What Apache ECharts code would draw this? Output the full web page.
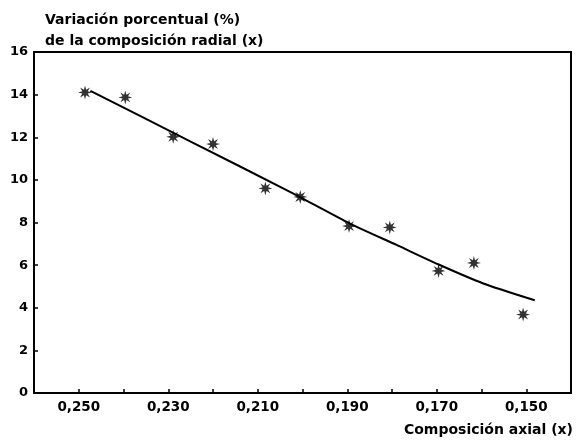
<!DOCTYPE html>
<html>
<head>
<meta charset="utf-8">
<script src="https://cdn.jsdelivr.net/npm/echarts@6/dist/echarts.min.js"></script>
<style>
  html, body { margin: 0; padding: 0; background: #fff; }
  #chart { width: 578px; height: 443px; }
</style>
</head>
<body>
<div id="chart"></div>
<script>
// puntos medidos (asteriscos)
const pointX = [0.2486, 0.2396, 0.2289, 0.2200, 0.2083, 0.2005, 0.1896, 0.1805, 0.1696, 0.1617, 0.1507];
const pointY = [14.10, 13.87, 12.02, 11.68, 9.60, 9.20, 7.83, 7.77, 5.73, 6.10, 3.68];

// curva ajustada
const curveX = [0.2474, 0.2251, 0.2028, 0.1894, 0.1791, 0.1697, 0.1596, 0.1481];
const curveY = [14.18, 11.81, 9.44, 7.95, 6.96, 6.04, 5.14, 4.35];

// etiquetas de los ejes
const xLabelValues = [0.25, 0.23, 0.21, 0.19, 0.17, 0.15];
const yTicks = [0, 2, 4, 6, 8, 10, 12, 14, 16];

const titleText = 'Variación porcentual (%)\nde la composición radial (x)';
const xAxisName = 'Composición axial (x)';

// asterisco de 8 puntas
function asteriskPath() {
    let d = '';
    for (let i = 0; i < 16; i++) {
        let a = i * Math.PI / 8 - Math.PI / 2;
        let r = i % 2 ? 0.42 : 1;
        let x = (50 + 50 * r * Math.cos(a)).toFixed(2);
        let y = (50 + 50 * r * Math.sin(a)).toFixed(2);
        d += (i === 0 ? 'M' : 'L') + x + ' ' + y + ' ';
    }
    return 'path://' + d + 'Z';
}

const font = 'DejaVu Sans';
let chart = echarts.init(document.getElementById('chart'), null, {renderer: 'canvas'});

let option = {
    backgroundColor: '#fff',
    animation: false,
    title: {
        text: titleText,
        left: 40,
        top: 5,
        textStyle: {
            fontFamily: font,
            fontWeight: 'bold',
            fontSize: 14,
            color: '#000',
            lineHeight: 21
        }
    },
    graphic: [{
        type: 'text',
        right: 5,
        top: 423,
        style: {
            text: xAxisName,
            font: 'bold 14px "DejaVu Sans"',
            fill: '#000'
        }
    }],
    grid: {
        left: 34,
        right: 7,
        top: 52,
        bottom: 50,
        show: true,
        borderColor: '#000',
        borderWidth: 2,
        containLabel: false
    },
    xAxis: {
        type: 'value',
        inverse: true,
        min: 0.14,
        max: 0.26,
        interval: 0.01,
        axisLine: {show: true, onZero: false, lineStyle: {color: '#000', width: 2}},
        axisTick: {show: true, inside: true, length: 4, lineStyle: {color: '#000', width: 1.5}},
        splitLine: {show: false},
        axisLabel: {
            margin: 7,
            fontFamily: font,
            fontWeight: 'bold',
            fontSize: 13.5,
            color: '#000',
            formatter: function (v) {
                let hit = xLabelValues.some(function (t) { return Math.abs(t - v) < 1e-6; });
                return hit ? v.toFixed(3).replace('.', ',') : '';
            }
        }
    },
    yAxis: {
        type: 'value',
        min: yTicks[0],
        max: yTicks[yTicks.length - 1],
        interval: 2,
        axisLine: {show: true, onZero: false, lineStyle: {color: '#000', width: 2}},
        axisTick: {show: true, inside: true, length: 4, lineStyle: {color: '#000', width: 1.5}},
        splitLine: {show: false},
        axisLabel: {
            margin: 6,
            fontFamily: font,
            fontWeight: 'bold',
            fontSize: 13,
            color: '#000'
        }
    },
    series: [
        {
            name: 'curva',
            type: 'line',
            smooth: 0.2,
            showSymbol: false,
            data: curveX.map(function (x, i) { return [x, curveY[i]]; }),
            lineStyle: {color: '#000', width: 2}
        },
        {
            name: 'medidas',
            type: 'scatter',
            symbol: asteriskPath(),
            symbolSize: 14,
            data: pointX.map(function (x, i) { return [x, pointY[i]]; }),
            itemStyle: {color: '#000'}
        }
    ]
};

chart.setOption(option);
</script>
</body>
</html>
